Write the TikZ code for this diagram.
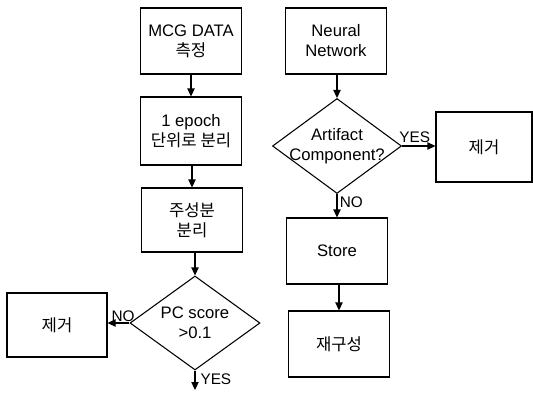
\documentclass[tikz,border=0pt]{standalone}
\usepackage{fontspec}
\setmainfont{Liberation Sans}
\newfontfamily\kr{Noto Sans CJK KR}
\usepackage{tikz}
\usetikzlibrary{shapes.geometric,arrows.meta}

\tikzset{
  box/.style={draw,line width=0.8pt,minimum width=75.75pt,minimum height=49.5pt,inner sep=0.75pt,align=center,font=\fontsize{12.5}{15}\selectfont},
  dec/.style={draw,diamond,line width=0.8pt,inner sep=0pt},
  dectxt/.style={inner sep=0.75pt,align=center,font=\fontsize{12.5}{15}\selectfont},
  lbl/.style={inner sep=0.75pt,font=\fontsize{11.5}{13}\selectfont},
  flow/.style={line width=0.8pt,-{Triangle[length=6pt,width=5.5pt]}}
}

\begin{document}
\begin{tikzpicture}[x=0.75pt,y=0.75pt,yscale=-1,xscale=1]

\useasboundingbox (0,0) rectangle (533,393);

% left column
\draw (191,41) node [box] (mcg) {MCG DATA\\{\kr 측정}};

\draw (191,131) node [box,minimum height=51pt] (epoch) {1 epoch\\{\kr 단위로 분리}};

\draw (192,220) node [box,minimum height=48pt] (pca) {{\kr 주성분}\\{\kr 분리}};

\draw (195,323) node [dec,minimum width=97.5pt,minimum height=70.5pt] (pcs) {};
\draw (pcs) node [dectxt] {PC score\\>0.1};

\draw (57,325) node [box,minimum width=75pt,minimum height=48pt] (rml) {\kr 제거};

\coordinate (yesend) at (195,390);

% right column
\draw (336,41) node [box] (nn) {Neural\\Network};

\draw (337,146) node [dec,minimum width=96.75pt,minimum height=71.25pt] (art) {};
\draw (art) node [dectxt] {Artifact\\Component?};

\draw (484,147) node [box,minimum width=72pt,minimum height=52.5pt] (rmr) {\kr 제거};

\draw (337,251) node [box] (store) {Store};

\draw (339,344) node [box] (recon) {\kr 재구성};

% connectors
\draw [flow] (mcg) -- (epoch);
\draw [flow] (epoch.south -| pca.north) -- (pca);
\draw [flow] (pca.south -| pcs.north) -- (pcs.north);
\draw [flow] (pcs.west) -- (rml.east |- pcs.west) node [lbl,midway,above,xshift=3.5pt] {NO};
\draw [flow] (pcs.south) -- (yesend) node [lbl,pos=0.45,right,xshift=3pt] {YES};

\draw [flow] (nn.south -| art.north) -- (art.north);
\draw [flow] (art.east) -- (rmr.west |- art.east) node [lbl,midway,above,xshift=-3pt,yshift=1pt] {YES};
\draw [flow] (art.south) -- (store.north -| art.south) node [lbl,pos=0.35,right,xshift=1pt] {NO};
\draw [flow] (store.south -| recon.north) -- (recon);

\end{tikzpicture}
\end{document}
